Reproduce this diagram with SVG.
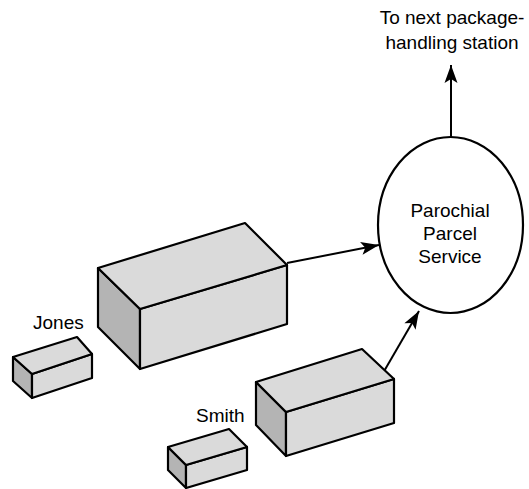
<svg xmlns="http://www.w3.org/2000/svg" width="529" height="489" viewBox="0 0 529 489">
  <style>
    .face { fill: #dadada; stroke: #000; stroke-width: 2.2; stroke-linejoin: round; }
    .side { fill: #b4b4b4; stroke: #000; stroke-width: 2.2; stroke-linejoin: round; }
    .edge { fill: none; stroke: #000; stroke-width: 2; }
    .label { font-family: "Liberation Sans", Arial, sans-serif; font-size: 19px; fill: #000; }
    .mid { text-anchor: middle; }
  </style>
  <defs>
    <marker id="arrow" viewBox="-19 -8 21 16" refX="0" refY="0" markerWidth="21" markerHeight="16" markerUnits="userSpaceOnUse" orient="auto">
      <path d="M0,0 L-18,-6.5 L-14,0 L-18,6.5 Z" fill="#000"/>
    </marker>
  </defs>

  <rect width="529" height="489" fill="#fff"/>

  <!-- Connectors -->
  <g id="connectors">
    <line class="edge" x1="287" y1="263" x2="379" y2="245" marker-end="url(#arrow)"/>
    <line class="edge" x1="383" y1="373" x2="419" y2="311" marker-end="url(#arrow)"/>
    <line class="edge" x1="451" y1="137" x2="451" y2="65" marker-end="url(#arrow)"/>
  </g>

  <!-- Large parcel (Jones) -->
  <g id="box-jones-large">
    <polygon class="side" points="98,268 140,309 140,369 98,327"/>
    <polygon class="face" points="140,309 287,265 287,324 140,369"/>
    <polygon class="face" points="98,268 245,223 287,265 140,309"/>
  </g>

  <!-- Small parcel (Jones) -->
  <g id="box-jones-small">
    <polygon class="side" points="13,357 32,374 32,398 13,381"/>
    <polygon class="face" points="32,374 92,354 92,378 32,398"/>
    <polygon class="face" points="13,357 77,337 92,354 32,374"/>
  </g>
  <g id="label-jones">
    <text class="label" x="33" y="329">Jones</text>
  </g>

  <!-- Large parcel (Smith) -->
  <g id="box-smith-large">
    <polygon class="side" points="256,382 286,412 286,456 256,425"/>
    <polygon class="face" points="286,412 394,379 394,423 286,456"/>
    <polygon class="face" points="256,382 362,349 394,379 286,412"/>
  </g>

  <!-- Small parcel (Smith) -->
  <g id="box-smith-small">
    <polygon class="side" points="168,447 186,465 186,488 168,470"/>
    <polygon class="face" points="186,465 247,447 247,470 186,488"/>
    <polygon class="face" points="168,447 229,429 247,447 186,465"/>
  </g>
  <g id="label-smith">
    <text class="label" x="196" y="422">Smith</text>
  </g>

  <!-- Parochial Parcel Service -->
  <g id="pps">
    <ellipse cx="450.5" cy="225" rx="72.5" ry="88" fill="#fff" stroke="#000" stroke-width="2.2"/>
    <text class="label mid" x="450" y="217">Parochial</text>
    <text class="label mid" x="450" y="240">Parcel</text>
    <text class="label mid" x="450" y="263">Service</text>
  </g>

  <!-- Destination caption -->
  <g id="next-station">
    <text class="label mid" x="452" y="24">To next package-</text>
    <text class="label mid" x="452" y="49">handling station</text>
  </g>
</svg>
